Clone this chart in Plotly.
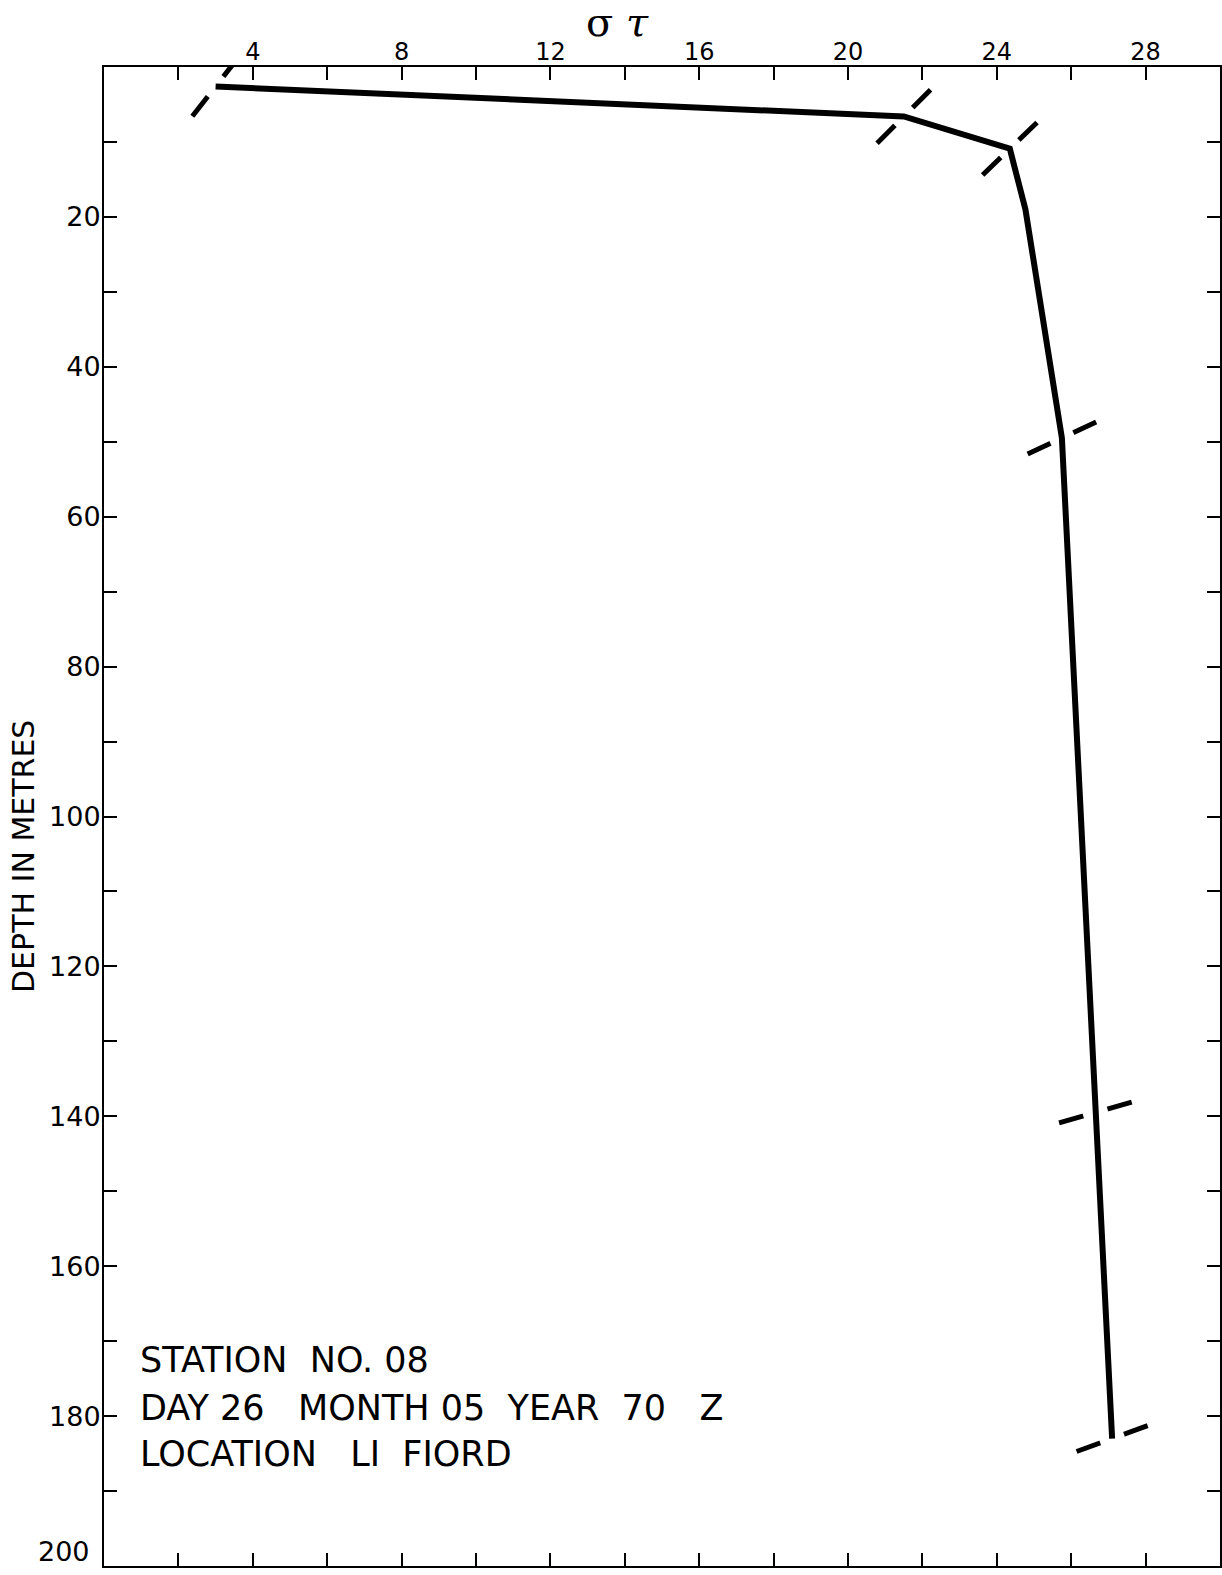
import plotly.graph_objects as go

# ---- data ----
sigma_t = [3.0, 21.5, 24.35, 24.77, 25.75, 26.65, 27.1]
depth_m = [2.6, 6.6, 10.9, 19.0, 49.5, 139.5, 183.0]

# observed sample points (marked with crossing dashes)
obs_sigma_t = [3.0, 21.5, 24.35, 25.75, 26.65, 27.1]
obs_depth_m = [2.6, 6.6, 10.9, 49.5, 139.5, 183.0]

x_tick_vals = list(range(0, 31, 2))
x_tick_text = [str(v) if (v % 4 == 0 and 0 < v < 30) else "" for v in x_tick_vals]
y_tick_vals = list(range(0, 201, 10))
y_max = 200
y_tick_text = [str(v) if (v % 20 == 0 and 0 < v < y_max) else "" for v in y_tick_vals]

station_lines = ["STATION\u00a0\u00a0NO. 08",
                 "DAY 26\u00a0\u00a0\u00a0MONTH 05\u00a0\u00a0YEAR\u00a0\u00a070\u00a0\u00a0\u00a0Z",
                 "LOCATION\u00a0\u00a0\u00a0LI\u00a0\u00a0FIORD"]
station_depths = [172.5, 178.9, 185.1]

# ---- style ----
dash_angles = [-52, -45, -44, -25, -16, -20]
W, H = 1222, 1575
ML, MR, MT, MB = 104, 2, 67, 9
PW, PH = W - ML - MR, H - MT - MB
font_lab = "DejaVu Sans"

fig = go.Figure()

# crossing dashes at observations (black long dash, white gap, then curve on top)
fig.add_trace(go.Scatter(
    x=obs_sigma_t, y=obs_depth_m, mode="markers",
    marker=dict(symbol="line-ew", size=54, angle=dash_angles,
                line=dict(color="black", width=5)),
    hoverinfo="skip", showlegend=False))
fig.add_trace(go.Scatter(
    x=obs_sigma_t, y=obs_depth_m, mode="markers",
    marker=dict(symbol="line-ew", size=18, angle=dash_angles,
                line=dict(color="white", width=9)),
    hoverinfo="skip", showlegend=False))
fig.add_trace(go.Scatter(
    x=sigma_t, y=depth_m, mode="lines",
    line=dict(color="black", width=6),
    hoverinfo="skip", showlegend=False))
# dummy trace for bottom / right axes
fig.add_trace(go.Scatter(x=[None], y=[None], xaxis="x2", yaxis="y2",
                         showlegend=False, hoverinfo="skip"))

axis_common = dict(showgrid=False, zeroline=False, showline=True,
                   linecolor="black", linewidth=2, ticks="inside",
                   tickcolor="black", tickwidth=2, ticklen=13, mirror=False,
                   automargin=False)

fig.update_layout(
    width=W, height=H,
    margin=dict(l=ML, r=MR, t=MT, b=MB, pad=0),
    paper_bgcolor="white", plot_bgcolor="white",
    xaxis=dict(range=[0, 30], side="top", tickvals=x_tick_vals,
               ticktext=x_tick_text,
               tickfont=dict(family=font_lab, size=24, color="black"),
               ticklabelstandoff=-5, **axis_common),
    xaxis2=dict(range=[0, 30], side="bottom", overlaying="x", anchor="y",
                tickvals=x_tick_vals, showticklabels=False, **axis_common),
    yaxis=dict(range=[y_max, 0], tickvals=y_tick_vals, ticktext=y_tick_text,
               tickfont=dict(family=font_lab, size=27, color="black"),
               ticklabelstandoff=-4, **axis_common),
    yaxis2=dict(range=[y_max, 0], side="right", overlaying="y", anchor="x",
                tickvals=y_tick_vals, showticklabels=False, **axis_common),
)

# bottom-most depth label sits just above the bottom axis, as in the original
fig.add_annotation(text=str(y_max), xref="paper", yref="y",
                   x=-(ML - 92) / PW, y=y_max, showarrow=False,
                   xanchor="right", yanchor="bottom", yshift=-3,
                   font=dict(family=font_lab, size=27, color="black"))

# axis titles
fig.add_annotation(text="σ <i>τ</i>", xref="paper", yref="paper",
                   x=(617 - ML) / PW, y=1 + (MT - 22) / PH,
                   showarrow=False, xanchor="center", yanchor="middle",
                   font=dict(family="DejaVu Serif", size=40, color="black"))
fig.add_annotation(text="DEPTH IN METRES", xref="paper", yref="paper",
                   x=-(ML - 23) / PW, y=1 - (857 - MT) / PH,
                   textangle=-90, showarrow=False, xanchor="center", yanchor="middle",
                   font=dict(family=font_lab, size=30, color="black"))

# station info
for txt, d in zip(station_lines, station_depths):
    fig.add_annotation(text=txt, xref="paper", yref="y",
                       x=(138 - ML) / PW, y=d,
                       showarrow=False, xanchor="left", yanchor="middle",
                       font=dict(family=font_lab, size=35, color="black"))

fig.write_html("out.html")
